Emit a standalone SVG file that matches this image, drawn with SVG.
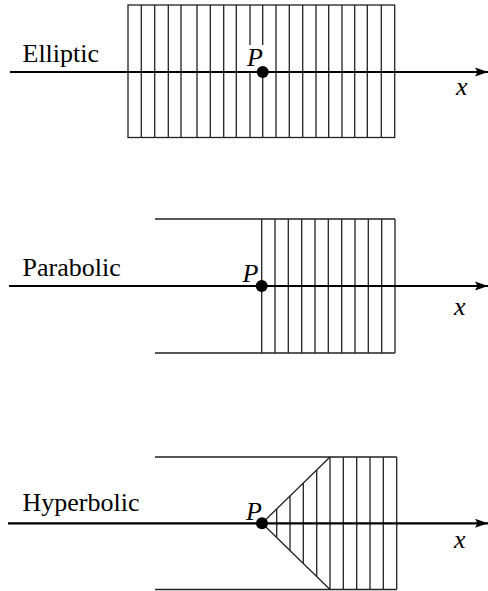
<svg xmlns="http://www.w3.org/2000/svg" width="488" height="591" viewBox="0 0 488 591">
<style>
.ln{stroke:#222;stroke-width:1.3;fill:none}
.ax{stroke:#000;stroke-width:2.2;fill:none}
.lab{font-family:'Liberation Serif','Times New Roman',Times,serif;font-size:26px;fill:#000}
.it{font-family:'Liberation Serif','Times New Roman',Times,serif;font-size:26px;font-style:italic;fill:#000}
</style>
<defs>
<marker id="arr" markerWidth="14" markerHeight="10" refX="13" refY="5" orient="auto" markerUnits="userSpaceOnUse">
<path d="M0,0.5 L13,5 L0,9.5 L2.5,5 Z" fill="#000"/>
</marker>
</defs>

<g id="elliptic">
<rect class="ln" x="128" y="5" width="266.7" height="132.5"/>
<path class="ln" d="M141.3,5V137.5M154.7,5V137.5M168.3,5V137.5M181,5V137.5M197,5V137.5M210.3,5V137.5M223.7,5V137.5M236.3,5V137.5M250,5V137.5M262.7,5V137.5M276,5V137.5M289.3,5V137.5M302.7,5V137.5M316,5V137.5M328.7,5V137.5M342,5V137.5M354.7,5V137.5M367.3,5V137.5M381.3,5V137.5"/>
<rect x="245" y="45" width="22" height="26" fill="#fff"/>
<text class="lab" x="22.5" y="62">Elliptic</text>
</g>

<g id="parabolic">
<path class="ln" d="M155,219H395M155,353H395"/>
<path class="ln" d="M261.7,219V353M275,219V353M288.3,219V353M301.7,219V353M315,219V353M328.3,219V353M341.7,219V353M355,219V353M368.3,219V353M381.7,219V353M395,219V353"/>
<text class="lab" x="22.5" y="276">Parabolic</text>
</g>

<g id="hyperbolic">
<path class="ln" d="M155,457H396.7M155,589.5H396.7"/>
<path class="ln" d="M262,523.3L330,457M262,523.3L330,589.5"/>
<path class="ln" d="M276.7,509V537.6M290,496V550.6M303.3,483V563.6M316.7,470V576.6M330,457V589.5M343.3,457V589.5M356.7,457V589.5M370,457V589.5M383.3,457V589.5M396.7,457V589.5"/>
<text class="lab" x="22.5" y="510.7">Hyperbolic</text>
</g>

<g id="connectors">
<line class="ax" x1="10" y1="72" x2="488" y2="72" marker-end="url(#arr)"/>
<line class="ax" x1="9" y1="286" x2="488" y2="286" marker-end="url(#arr)"/>
<line class="ax" x1="8" y1="523.3" x2="488" y2="523.3" marker-end="url(#arr)"/>
</g>

<g id="P-elliptic">
<circle cx="262.7" cy="72" r="6" fill="#000"/>
<text class="it" x="247" y="66">P</text>
</g>
<g id="P-parabolic">
<circle cx="261.7" cy="286" r="6" fill="#000"/>
<text class="it" x="242.5" y="282">P</text>
</g>
<g id="P-hyperbolic">
<circle cx="262" cy="523.3" r="6" fill="#000"/>
<text class="it" x="246" y="520">P</text>
</g>

<text class="it" x="456" y="95">x</text>
<text class="it" x="454" y="315">x</text>
<text class="it" x="454" y="548">x</text>
</svg>
